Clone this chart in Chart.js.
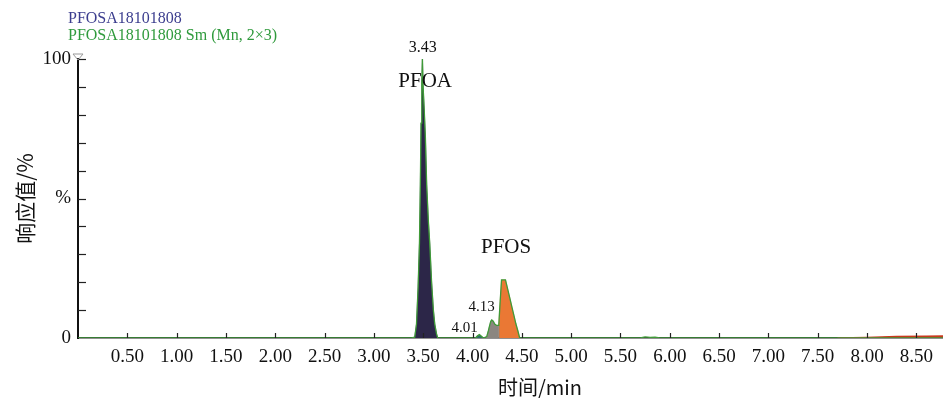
<!DOCTYPE html>
<html>
<head>
<meta charset="utf-8">
<script src="https://cdn.jsdelivr.net/npm/chart.js@4/dist/chart.umd.min.js"></script>
<style>
  html, body { margin: 0; padding: 0; background: #fff; }
  #wrap { width: 943px; height: 398px; position: relative; }
</style>
</head>
<body>
<div id="wrap"><canvas id="chromChart"></canvas></div>
<script>
// retention time (min) and relative response (%) for each filled peak
const pfoaTime = [3.38, 3.414, 3.432, 3.448, 3.462, 3.471, 3.478, 3.486, 3.492, 3.499, 3.510, 3.522, 3.535, 3.552, 3.566, 3.585, 3.603, 3.617, 3.635, 3.647];
const pfoaResp = [0, 0.3, 5, 18, 34, 55, 77, 92, 100, 90, 82, 72, 55, 42, 34, 20, 10, 5, 1.5, 0];

const tealTime = [4.03, 4.05, 4.07, 4.09, 4.11];
const tealResp = [0, 0.8, 1.2, 0.6, 0];

const grayTime = [4.13, 4.144, 4.16, 4.174, 4.185, 4.195, 4.21, 4.225, 4.245, 4.266, 4.266];
const grayResp = [0, 0.5, 2.5, 4.5, 6, 6.5, 6, 5, 4.5, 4.5, 0];

const pfosTime = [4.266, 4.266, 4.28, 4.294, 4.314, 4.334, 4.36, 4.38, 4.40, 4.42, 4.44, 4.46, 4.478];
const pfosResp = [0, 4.5, 13, 20.8, 20.8, 20.8, 17, 14, 11, 8, 5, 2.5, 0];

const tailTime = [7.7, 8.0, 8.3, 8.6, 8.77];
const tailResp = [0, 0.2, 0.5, 0.6, 0.7];

// smoothed trace (Sm, Mn 2x3), outlines everything
const smTime = [0, 3.38, 3.414, 3.432, 3.448, 3.462, 3.471, 3.478, 3.486, 3.492, 3.499, 3.510, 3.522, 3.535, 3.552, 3.566, 3.585, 3.603, 3.617, 3.635, 3.647,
  4.03, 4.05, 4.07, 4.09, 4.11, 4.144, 4.16, 4.174, 4.185, 4.195, 4.21, 4.225, 4.245, 4.266, 4.28, 4.294, 4.314, 4.334, 4.36, 4.38, 4.40, 4.42, 4.44, 4.46, 4.478,
  5.70, 5.75, 5.80, 5.85, 5.90, 8.77];
const smResp = [0, 0, 0.3, 5, 18, 34, 55, 77, 92, 100, 90, 82, 72, 55, 42, 34, 20, 10, 5, 1.5, 0,
  0, 0.8, 1.2, 0.6, 0, 0.5, 2.5, 4.5, 6, 6.5, 6, 5, 4.5, 4.5, 13, 20.8, 20.8, 20.8, 17, 14, 11, 8, 5, 2.5, 0,
  0, 0.4, 0.2, 0.3, 0, 0];

// text labels placed in data coordinates
const peakLabels = [
  { text: "3.43", x: 3.495, y: 104, size: 16 },
  { text: "PFOA", x: 3.52, y: 92, size: 21 },
  { text: "PFOS", x: 4.34, y: 32.3, size: 21 },
  { text: "4.13", x: 4.093, y: 11.1, size: 15 },
  { text: "4.01", x: 3.921, y: 3.6, size: 15 }
];

const legendLines = ["PFOSA18101808", "PFOSA18101808 Sm (Mn, 2×3)"];
const legendColors = ["#3b3d8e", "#2f9a3c"];

const xTitle = "时间/min";
const yTitle = "响应值/%";

function pts(t, r) {
  return t.map((x, i) => ({ x: x, y: r[i] }));
}

const serif = "'Liberation Serif', 'Times New Roman', serif";

const decor = {
  id: "decor",
  afterDraw(chart) {
    const c = chart.ctx;
    const xs = chart.scales.x;
    const ys = chart.scales.y;
    const area = chart.chartArea;
    c.save();

    // inward tick marks
    c.strokeStyle = "#222";
    c.lineWidth = 1.2;
    xs.ticks.forEach(t => {
      if (t.value <= 0 || Math.abs(t.value * 2 - Math.round(t.value * 2)) > 1e-6) return;
      const px = Math.round(xs.getPixelForValue(t.value)) + 0.5;
      c.beginPath();
      c.moveTo(px, area.bottom);
      c.lineTo(px, area.bottom - 5);
      c.stroke();
    });
    ys.ticks.forEach(t => {
      if (t.value <= 0) return;
      const py = Math.round(ys.getPixelForValue(t.value)) + 0.5;
      c.beginPath();
      c.moveTo(area.left, py);
      c.lineTo(area.left + 8, py);
      c.stroke();
    });

    // small marker on top of y axis
    c.strokeStyle = "#999";
    c.lineWidth = 1;
    c.beginPath();
    c.moveTo(area.left - 5, area.top - 5);
    c.lineTo(area.left + 5, area.top - 5);
    c.lineTo(area.left, area.top + 1);
    c.closePath();
    c.stroke();

    // peak labels
    c.fillStyle = "#111";
    c.textAlign = "center";
    c.textBaseline = "middle";
    peakLabels.forEach(l => {
      c.font = l.size + "px " + serif;
      c.fillText(l.text, xs.getPixelForValue(l.x), ys.getPixelForValue(l.y));
    });

    // legend text
    c.textAlign = "left";
    c.textBaseline = "alphabetic";
    c.font = "16px " + serif;
    legendLines.forEach((s, i) => {
      c.fillStyle = legendColors[i];
      c.fillText(s, 68, 23 + i * 17);
    });

    // x title
    c.fillStyle = "#111";
    c.textAlign = "center";
    c.textBaseline = "middle";
    c.font = "20px 'Noto Sans CJK SC', sans-serif";
    c.fillText(xTitle, 540, 387);

    c.restore();
  }
};

new Chart(document.getElementById("chromChart"), {
  type: "line",
  data: {
    datasets: [
      {
        label: "Sm",
        data: pts(smTime, smResp),
        borderColor: "#3f9a38",
        borderWidth: 1.3,
        fill: false,
        pointRadius: 0,
        tension: 0
      },
      {
        label: "PFOA",
        data: pts(pfoaTime, pfoaResp),
        borderColor: "#2c2648",
        backgroundColor: "#2c2648",
        borderWidth: 0.5,
        fill: "origin",
        pointRadius: 0,
        tension: 0
      },
      {
        label: "4.01",
        data: pts(tealTime, tealResp),
        borderColor: "#2e6e68",
        backgroundColor: "#2e6e68",
        borderWidth: 0.5,
        fill: "origin",
        pointRadius: 0,
        tension: 0
      },
      {
        label: "4.13",
        data: pts(grayTime, grayResp),
        borderColor: "#8b8680",
        backgroundColor: "#8b8680",
        borderWidth: 0.5,
        fill: "origin",
        pointRadius: 0,
        tension: 0
      },
      {
        label: "PFOS",
        data: pts(pfosTime, pfosResp),
        borderColor: "#ea7834",
        backgroundColor: "#ea7834",
        borderWidth: 0.5,
        fill: "origin",
        pointRadius: 0,
        tension: 0
      },
      {
        label: "tail",
        data: pts(tailTime, tailResp),
        borderColor: "#c9381c",
        backgroundColor: "#c9381c",
        borderWidth: 1.5,
        fill: "origin",
        pointRadius: 0,
        tension: 0
      }
    ]
  },
  options: {
    responsive: true,
    maintainAspectRatio: false,
    animation: false,
    layout: { padding: { top: 59, right: 0, left: 0, bottom: 0 } },
    plugins: {
      legend: { display: false },
      tooltip: { enabled: false }
    },
    scales: {
      x: {
        type: "linear",
        min: 0,
        max: 8.77,
        afterFit: s => { s.height = 60; s.paddingRight = 0; },
        grid: { display: false, drawTicks: false },
        border: { display: true, color: "#222", width: 1.5 },
        ticks: {
          stepSize: 0.5,
          includeBounds: false,
          autoSkip: false,
          maxRotation: 0,
          padding: 8,
          color: "#111",
          font: { family: serif, size: 19 },
          callback: v => (v > 0 && Math.abs(v * 2 - Math.round(v * 2)) < 1e-6) ? v.toFixed(2) : ""
        }
      },
      y: {
        min: 0,
        max: 100,
        afterFit: s => { s.width = 78; },
        grid: { display: false, drawTicks: false },
        border: { display: true, color: "#111", width: 2 },
        title: {
          display: true,
          text: yTitle,
          color: "#111",
          font: { family: "'Noto Sans CJK SC', sans-serif", size: 21 },
          padding: { top: 12, bottom: 0 }
        },
        ticks: {
          stepSize: 10,
          autoSkip: false,
          padding: 7,
          color: "#111",
          font: { family: serif, size: 19 },
          callback: v => v === 100 ? "100" : v === 50 ? "%" : v === 0 ? "0" : ""
        }
      }
    }
  },
  plugins: [decor]
});
</script>
</body>
</html>
